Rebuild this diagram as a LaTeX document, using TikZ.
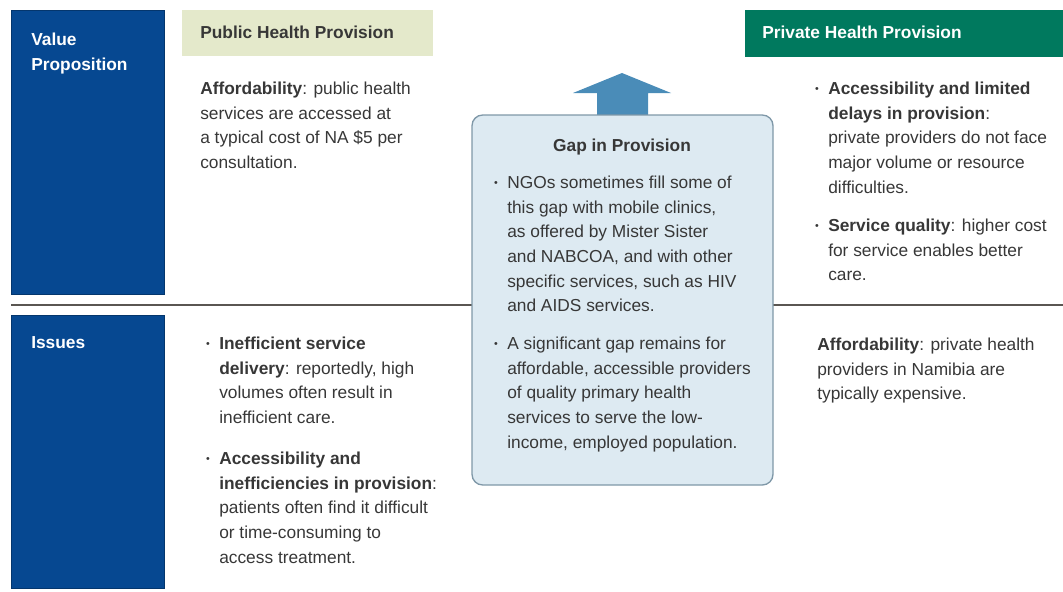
\documentclass[tikz,border=0pt]{standalone}
\usepackage{fontspec}
\setmainfont{Liberation Sans}
\definecolor{vpblue}{RGB}{6,72,145}
\definecolor{pubhead}{RGB}{228,233,203}
\definecolor{privhead}{RGB}{0,121,94}
\definecolor{gapfill}{RGB}{221,234,242}
\definecolor{gapedge}{RGB}{127,152,168}
\definecolor{uparrow}{RGB}{74,140,184}
\definecolor{rulegray}{RGB}{90,86,82}
\definecolor{bodygray}{RGB}{55,55,55}
\newcommand{\bitem}{\llap{\raisebox{0.12em}{\fontsize{8}{8}\selectfont\textbullet}\hspace{7pt}}}
\tikzset{
  txt/.style={anchor=north west, yshift=8.5pt, inner sep=0pt, align=left, text=bodygray,
    font=\fontsize{13}{18.5}\selectfont},
  headtxt/.style={anchor=base west, inner sep=0pt, text=bodygray, font=\fontsize{13}{18.5}\selectfont\bfseries},
  sidetxt/.style={txt, text=white, font=\fontsize{13}{18.5}\selectfont\bfseries},
}
\begin{document}
\begin{tikzpicture}[x=0.75pt,y=-0.75pt]
\useasboundingbox (0,0) rectangle (1063,592);
\filldraw[fill=vpblue, draw=vpblue!75!black, line width=0.6pt] (11,10) rectangle (164,294);
\filldraw[fill=vpblue, draw=vpblue!75!black, line width=0.6pt] (11,315) rectangle (164,588);
\fill[pubhead] (182,10) rectangle (433,56);
\fill[privhead] (745,10) rectangle (1063,57);
\coordinate (ruleL) at (11,305);
\coordinate (ruleR) at (1063,305);
\draw[rulegray, line width=1.5pt] (ruleL)--(ruleR);
\filldraw[fill=uparrow, draw=none] (597,116)--(597,93)--(573,93)--(622,73)--(671,93)--(648,93)--(648,116)--cycle;
\node[draw=gapedge, fill=gapfill, line width=1pt, rounded corners=8pt, minimum width=301*0.75pt, minimum height=370*0.75pt, inner sep=0pt] (gap) at (622.5,300) {};
\node[sidetxt] (vp) at (31,44) {Value\\Proposition};
\node[sidetxt] (iss) at (31,348) {Issues};
\node[headtxt] (pubhd) at (200,39) {Public Health Provision};
\node[headtxt, text=white] (privhd) at (762,39) {Private Health Provision};
\node[txt] (pubval) at (200,93) {\textbf{Affordability}: public health\\services are accessed at\\a typical cost of NA \$5 per\\consultation.};
\node[txt] (pubiss1) at (219,348) {\bitem\textbf{Inefficient service}\\\textbf{delivery}: reportedly, high\\volumes often result in\\inefficient care.};
\node[txt] (pubiss2) at (219,463) {\bitem\textbf{Accessibility and}\\\textbf{inefficiencies in provision}:\\patients often find it difficult\\or time-consuming to\\access treatment.};
\node[headtxt, anchor=base] (gaphd) at (622,151) {Gap in Provision};
\node[txt] (gap1) at (507,187) {\bitem NGOs sometimes fill some of\\this gap with mobile clinics,\\as offered by Mister Sister\\and NABCOA, and with other\\specific services, such as HIV\\and AIDS services.};
\node[txt] (gap2) at (507,348) {\bitem A significant gap remains for\\affordable, accessible providers\\of quality primary health\\services to serve the low-\\income, employed population.};
\node[txt] (privval1) at (828,93) {\bitem\textbf{Accessibility and limited}\\\textbf{delays in provision}:\\private providers do not face\\major volume or resource\\difficulties.};
\node[txt] (privval2) at (828,230) {\bitem\textbf{Service quality}: higher cost\\for service enables better\\care.};
\node[txt] (priviss) at (817,349) {\textbf{Affordability}: private health\\providers in Namibia are\\typically expensive.};
\end{tikzpicture}
\end{document}
